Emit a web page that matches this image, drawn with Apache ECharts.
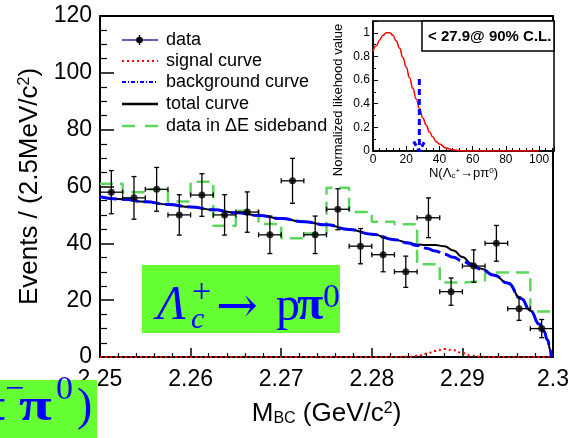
<!DOCTYPE html>
<html>
<head>
<meta charset="utf-8">
<title>M_BC fit, Lambda_c+ -> p pi0</title>
<script src="https://cdn.jsdelivr.net/npm/echarts@6/dist/echarts.min.js"></script>
<style>
    html, body { margin: 0; padding: 0; background: #fff; }
    #main { width: 572px; height: 438px; }
</style>
</head>
<body>
<div id="main"></div>
<script>
// 2.5 MeV bins, centres in GeV/c2
var binCenters = [2.25125, 2.25375, 2.25625, 2.25875, 2.26125, 2.26375, 2.26625, 2.26875, 2.27125, 2.27375,
                  2.27625, 2.27875, 2.28125, 2.28375, 2.28625, 2.28875, 2.29125, 2.29375, 2.29625, 2.29875];
var binHalf = 0.00125;
var dataCounts = [58, 56, 59, 50, 57, 50, 51, 43, 62, 43, 52, 39, 36, 30, 49, 23, 32, 40, 17, 10];
var dataErrors = [7.6, 7.5, 7.7, 7.1, 7.5, 7.1, 7.1, 6.6, 7.9, 6.6, 7.2, 6.2, 6.0, 5.5, 7.0, 4.8, 5.7, 6.3, 4.1, 3.2];
var sidebandCounts = [61, 58, 59, 54.7, 61.7, 46.2, 51.5, 46.8, 41.8, 43.5, 59.6, 51, 47.6, 46.7, 32.6, 26.2, 26.8, 29.7, 29.7, 16];

// fitted curves
var curveMass = [2.250, 2.2525, 2.255, 2.2575, 2.260, 2.2625, 2.265, 2.2675, 2.270, 2.2725, 2.275, 2.2775,
                 2.280, 2.2825, 2.284, 2.285, 2.286, 2.287, 2.288, 2.289, 2.290, 2.291, 2.292, 2.2935,
                 2.295, 2.2965, 2.2975, 2.2985, 2.2990, 2.2994, 2.2997, 2.2998];
var bgCurve = [56.4, 55.5, 54.6, 53.7, 52.8, 51.8, 50.8, 49.8, 48.7, 47.6, 46.5, 44.9,
               43.2, 41.3, 40.1, 39.2, 38.3, 37.3, 36.2, 35.1, 33.8, 32.4, 31.0, 28.8,
               26.0, 20.5, 16.3, 11.5, 9.0, 6.0, 2.5, 0];
var signalCurve = [0, 0, 0, 0, 0, 0, 0, 0, 0, 0, 0, 0,
                   0, 0, 0.1, 0.4, 1.1, 2.1, 2.8, 2.4, 1.4, 0.5, 0.1, 0,
                   0, 0, 0, 0, 0, 0, 0, 0];
var totalCurve = [56.4, 55.5, 54.6, 53.7, 52.8, 51.8, 50.8, 49.8, 48.7, 47.6, 46.5, 44.9,
                  43.2, 41.3, 40.2, 39.6, 39.4, 39.4, 39.0, 37.5, 35.2, 32.9, 31.1, 28.8,
                  26.0, 20.5, 16.3, 11.5, 9.0, 6.0, 2.5, 0];

// inset: likelihood vs N(signal)
var likeN = [0, 2, 4, 6, 8, 10, 12, 14, 16, 18, 20, 22, 24, 26, 28, 30, 32, 34, 36, 38, 40, 44, 48, 52, 56, 60, 100];
var likeValue = [0.84, 0.89, 0.94, 0.98, 1.0, 1.0, 0.98, 0.93, 0.87, 0.79, 0.71, 0.62, 0.53, 0.44, 0.36, 0.28,
                 0.22, 0.16, 0.12, 0.08, 0.06, 0.025, 0.01, 0.003, 0, 0, 0];
var upperLimit = 27.9;
var arrowShaft = [[27.9, 0.61], [27.9, 0.03]];
var arrowHead = [[24.5, 0.08], [27.9, 0], [31.5, 0.09]];

function zip(xs, ys) {
    return xs.map(function (x, i) { return [x, ys[i]]; });
}

var pointData = binCenters.map(function (x, i) { return [x, dataCounts[i], dataErrors[i]]; });
// step histogram: one point per lower bin edge, plus the last upper edge
var sidebandData = binCenters.map(function (x, i) { return [x - binHalf, sidebandCounts[i]]; });
sidebandData.push([binCenters[binCenters.length - 1] + binHalf, sidebandCounts[sidebandCounts.length - 1]]);

var helv = 'Liberation Sans';
var times = 'Liberation Serif';
var BLUE = '#0000ff';
var GREEN = '#5cd65c';

function renderErrorBar(params, api) {
    var x = api.value(0), y = api.value(1), e = api.value(2);
    var c = api.coord([x, y]);
    var top = api.coord([x, y + e])[1];
    var bot = api.coord([x, y - e])[1];
    var l = api.coord([x - binHalf, y])[0];
    var r = api.coord([x + binHalf, y])[0];
    var st = { stroke: '#000', lineWidth: 1.3 };
    var cap = 2.5;
    return {
        type: 'group',
        children: [
            { type: 'line', shape: { x1: c[0], y1: top, x2: c[0], y2: bot }, style: st },
            { type: 'line', shape: { x1: l, y1: c[1], x2: r, y2: c[1] }, style: st },
            { type: 'line', shape: { x1: c[0] - cap, y1: top, x2: c[0] + cap, y2: top }, style: st },
            { type: 'line', shape: { x1: c[0] - cap, y1: bot, x2: c[0] + cap, y2: bot }, style: st },
            { type: 'line', shape: { x1: l, y1: c[1] - cap, x2: l, y2: c[1] + cap }, style: st },
            { type: 'line', shape: { x1: r, y1: c[1] - cap, x2: r, y2: c[1] + cap }, style: st }
        ]
    };
}

function legendRow(y, text, lineStyle) {
    return [
        { type: 'line', shape: { x1: 122, y1: y, x2: 158, y2: y }, style: lineStyle },
        { type: 'text', x: 166, y: y, style: { text: text, font: '18px ' + helv, fill: '#000', verticalAlign: 'middle' } }
    ];
}

function serif(text, x, y, size, opts) {
    opts = opts || {};
    return {
        type: 'text', x: x, y: y, scaleX: opts.scaleX || 1,
        style: {
            text: text,
            font: (opts.italic ? 'italic ' : '') + (opts.bold ? 'bold ' : '') + size + 'px ' + (opts.family || times),
            fill: BLUE, align: opts.align || 'left', verticalAlign: 'middle'
        }
    };
}

var graphics = [];
graphics = graphics.concat(
    legendRow(40, 'data', { stroke: '#2b2bb0', lineWidth: 1.5 }),
    [
        { type: 'line', shape: { x1: 139.5, y1: 35, x2: 139.5, y2: 45 }, style: { stroke: '#000', lineWidth: 1.3 } },
        { type: 'circle', shape: { cx: 139.5, cy: 40, r: 3.3 }, style: { fill: '#000' } }
    ],
    legendRow(61, 'signal curve', { stroke: '#ff0000', lineWidth: 2, lineDash: [2, 3] }),
    legendRow(82, 'background curve', { stroke: BLUE, lineWidth: 2, lineDash: [4, 2, 1, 2] }),
    legendRow(104, 'total curve', { stroke: '#000', lineWidth: 2.5 }),
    legendRow(126, 'data in \u0394E sideband', { stroke: GREEN, lineWidth: 2.5, lineDash: [13, 10] })
);

// upper limit box in the inset
graphics.push(
    { type: 'rect', shape: { x: 422, y: 21, width: 132, height: 30 }, style: { fill: '#fff', stroke: '#000', lineWidth: 1.5 } },
    { type: 'text', x: 428, y: 37, style: { text: '< 27.9@ 90% C.L.', font: 'bold 15px ' + helv, fill: '#000', verticalAlign: 'middle' } },
    { type: 'text', x: 338, y: 100, rotation: Math.PI / 2,
      style: { text: 'Normalized likehood value', font: '13px ' + helv, fill: '#000', align: 'center', verticalAlign: 'middle' } }
);

// green label boxes
graphics.push(
    { type: 'rect', shape: { x: 142, y: 265, width: 198, height: 68 }, style: { fill: '#66ff33' } },
    serif('\u039b', 157, 306, 48, { italic: true }),
    serif('+', 192, 293, 34),
    serif('c', 191, 320, 30, { italic: true }),
    serif('\u2192', 216, 309, 50, { family: 'DejaVu Serif' }),
    serif('p', 276, 307, 48),
    serif('\u03c0', 297, 307, 48, { bold: true }),
    serif('0', 323, 298, 34),
    { type: 'rect', shape: { x: 0, y: 380, width: 97, height: 58 }, style: { fill: '#66ff33' } },
    serif('\u03c0', 5, 408, 46, { bold: true, align: 'right', scaleX: 1.3 }),
    serif('\u2212', 5, 390, 34),
    serif('\u03c0', 19, 408, 46, { bold: true, scaleX: 1.3 }),
    serif('0', 56, 390, 34),
    serif(')', 77, 408, 46)
);
graphics.forEach(function (g) { g.z = 100; });

var myChart = echarts.init(document.getElementById('main'));
var option = {
    animation: false,
    backgroundColor: '#fff',
    textStyle: { fontFamily: helv, color: '#000' },
    grid: [
        { left: 100, top: 16, right: 15, bottom: 81, show: true, borderColor: '#000', borderWidth: 2 },
        { left: 373, top: 21, width: 181, height: 130, show: true, borderColor: '#000', borderWidth: 1.5, backgroundColor: '#fff' }
    ],
    xAxis: [
        {
            type: 'value', gridIndex: 0, min: 2.25, max: 2.30, interval: 0.01,
            axisLine: { lineStyle: { color: '#000', width: 2 } },
            axisTick: { inside: true, length: 9, lineStyle: { color: '#000', width: 1.5 } },
            minorTick: { show: true, splitNumber: 5, length: 4, lineStyle: { color: '#000', width: 1.2 } },
            splitLine: { show: false },
            axisLabel: { color: '#000', fontSize: 23, margin: 11, fontFamily: helv,
                         formatter: function (v) { return String(+v.toFixed(2)); } },
            name: 'M{sub|BC} (GeV/c{sup|2})',
            nameLocation: 'middle', nameGap: 44,
            nameTextStyle: { fontSize: 26, fontFamily: helv, color: '#000',
                rich: { sub: { fontSize: 16, verticalAlign: 'bottom', fontFamily: helv },
                        sup: { fontSize: 16, verticalAlign: 'top', fontFamily: helv } } }
        },
        {
            type: 'value', gridIndex: 1, min: 0, max: 109, interval: 20,
            axisLine: { lineStyle: { color: '#000', width: 1.5 } },
            axisTick: { inside: true, length: 5, lineStyle: { color: '#000' } },
            minorTick: { show: true, splitNumber: 5, length: 3, lineStyle: { color: '#000' } },
            splitLine: { show: false },
            axisLabel: { color: '#000', fontSize: 12, margin: 3, showMaxLabel: false, fontFamily: helv },
            name: 'N(\u039b{sub|c}{sup|+}\u2192p\u03c0{sup|0})',
            nameLocation: 'middle', nameGap: 16,
            nameTextStyle: { fontSize: 13, fontFamily: helv, color: '#000',
                rich: { sub: { fontSize: 8, verticalAlign: 'bottom' }, sup: { fontSize: 8, verticalAlign: 'top' } } }
        }
    ],
    yAxis: [
        {
            type: 'value', gridIndex: 0, min: 0, max: 120, interval: 20,
            axisLine: { lineStyle: { color: '#000', width: 2 } },
            axisTick: { inside: true, length: 14, lineStyle: { color: '#000', width: 1.5 } },
            minorTick: { show: true, splitNumber: 4, length: 7, lineStyle: { color: '#000', width: 1.2 } },
            splitLine: { show: false },
            axisLabel: { color: '#000', fontSize: 23, margin: 8, fontFamily: helv },
            name: 'Events / (2.5MeV/c{sup|2})',
            nameLocation: 'middle', nameRotate: 90, nameGap: 55,
            nameTextStyle: { fontSize: 26, fontFamily: helv, color: '#000',
                rich: { sup: { fontSize: 16, verticalAlign: 'top', fontFamily: helv } } }
        },
        {
            type: 'value', gridIndex: 1, min: 0, max: 1.1, interval: 0.2,
            axisLine: { lineStyle: { color: '#000', width: 1.5 } },
            axisTick: { inside: true, length: 5, lineStyle: { color: '#000' } },
            minorTick: { show: true, splitNumber: 2, length: 3, lineStyle: { color: '#000' } },
            splitLine: { show: false },
            axisLabel: { color: '#000', fontSize: 12, margin: 3, showMaxLabel: false, fontFamily: helv,
                         formatter: function (v) { return String(+v.toFixed(1)); } }
        }
    ],
    series: [
        {
            name: 'data in \u0394E sideband', type: 'line', xAxisIndex: 0, yAxisIndex: 0, z: 2,
            step: 'end', showSymbol: false, data: sidebandData,
            lineStyle: { color: GREEN, width: 2.5, type: [13, 7] }
        },
        {
            name: 'signal curve', type: 'line', xAxisIndex: 0, yAxisIndex: 0, z: 3,
            smooth: true, smoothMonotone: 'x', showSymbol: false, data: zip(curveMass, signalCurve),
            lineStyle: { color: '#ff0000', width: 2, type: [2, 3] }
        },
        {
            name: 'total curve', type: 'line', xAxisIndex: 0, yAxisIndex: 0, z: 4,
            smooth: true, smoothMonotone: 'x', showSymbol: false, data: zip(curveMass, totalCurve),
            lineStyle: { color: '#000', width: 2 }
        },
        {
            name: 'background curve', type: 'line', xAxisIndex: 0, yAxisIndex: 0, z: 5,
            smooth: true, smoothMonotone: 'x', showSymbol: false, data: zip(curveMass, bgCurve),
            lineStyle: { color: BLUE, width: 3, type: [17, 5] }
        },
        {
            name: 'data', type: 'custom', xAxisIndex: 0, yAxisIndex: 0, z: 6,
            renderItem: renderErrorBar, encode: { x: 0, y: 1 }, data: pointData
        },
        {
            name: 'data points', type: 'scatter', xAxisIndex: 0, yAxisIndex: 0, z: 7,
            symbolSize: 7, itemStyle: { color: '#000' }, data: pointData
        },
        {
            name: 'likelihood', type: 'line', xAxisIndex: 1, yAxisIndex: 1, z: 3,
            smooth: true, smoothMonotone: 'x', showSymbol: false, data: zip(likeN, likeValue),
            lineStyle: { color: '#ff0000', width: 1.5 }
        },
        {
            name: 'upper limit', type: 'line', xAxisIndex: 1, yAxisIndex: 1, z: 4,
            showSymbol: false, data: arrowShaft,
            lineStyle: { color: BLUE, width: 3, type: [6, 4] }
        },
        {
            name: 'upper limit head', type: 'line', xAxisIndex: 1, yAxisIndex: 1, z: 4,
            showSymbol: false, data: arrowHead,
            lineStyle: { color: BLUE, width: 3, type: [5, 3] }
        }
    ],
    graphic: graphics
};
option && myChart.setOption(option);
</script>
</body>
</html>
